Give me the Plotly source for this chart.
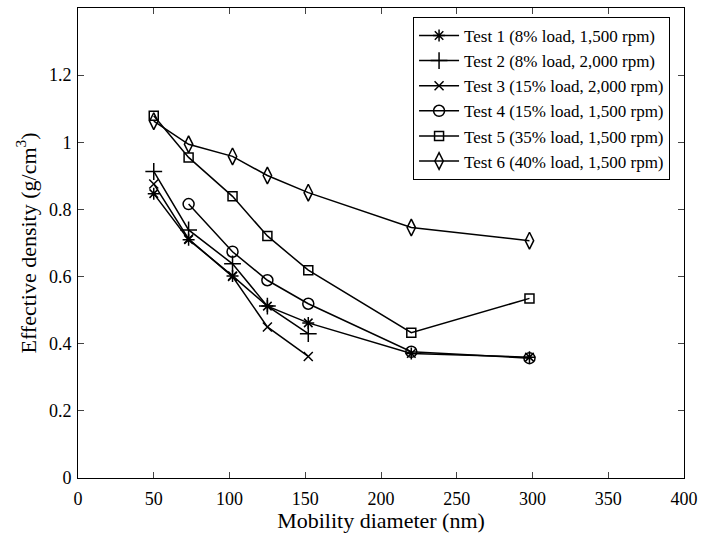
import plotly.graph_objects as go

diam_full = [50, 73, 102, 125, 152, 220, 298]
diam_short = [50, 73, 102, 125, 152]
diam_t4 = [73, 102, 125, 152, 220, 298]

test1 = [0.847, 0.710, 0.602, 0.512, 0.462, 0.371, 0.360]
test2 = [0.913, 0.739, 0.638, 0.512, 0.430]
test3 = [0.876, 0.712, 0.600, 0.450, 0.362]
test4 = [0.816, 0.674, 0.589, 0.519, 0.376, 0.357]
test5 = [1.079, 0.955, 0.839, 0.721, 0.619, 0.433, 0.535]
test6 = [1.063, 0.994, 0.958, 0.901, 0.850, 0.746, 0.707]

names = ["Test 1 (8% load, 1,500 rpm)", "Test 2 (8% load, 2,000 rpm)",
         "Test 3 (15% load, 2,000 rpm)", "Test 4 (15% load, 1,500 rpm)",
         "Test 5 (35% load, 1,500 rpm)", "Test 6 (40% load, 1,500 rpm)"]

x_ticks = [0, 50, 100, 150, 200, 250, 300, 350, 400]
y_ticks = [0, 0.2, 0.4, 0.6, 0.8, 1.0, 1.2]
y_tick_text = ["0", "0.2", "0.4", "0.6", "0.8", "1", "1.2"]

series = [
    (diam_full, test1, "asterisk-open", 10),
    (diam_short, test2, "cross-thin-open", 12),
    (diam_short, test3, "x-thin-open", 9),
    (diam_t4, test4, "circle-open", 11),
    (diam_full, test5, "square-open", 9),
    (diam_full, test6, "diamond-tall-open", 12),
]

fig = go.Figure()
for (xs, ys, sym, sz), nm in zip(series, names):
    fig.add_trace(go.Scatter(
        x=xs, y=ys, name=nm, mode="lines+markers",
        line=dict(color="black", width=1.5),
        marker=dict(symbol=sym, size=sz, color="black",
                    line=dict(color="black", width=1.5)),
    ))

font = "Liberation Serif, Times New Roman, serif"
fig.update_layout(
    width=709, height=533,
    margin=dict(l=78, r=25, t=7, b=50),
    plot_bgcolor="white", paper_bgcolor="white",
    font=dict(family=font, size=18, color="black"),
    showlegend=True,
    legend=dict(x=0.977, y=0.981, xanchor="right", yanchor="top",
                bgcolor="white", bordercolor="black", borderwidth=1,
                font=dict(family=font, size=17, color="black"),
                tracegroupgap=0, itemwidth=40),
    xaxis=dict(range=[0, 400], tickvals=x_ticks, ticks="inside", ticklen=6,
               showline=True, linecolor="black", linewidth=1, mirror="ticks",
               showgrid=False, zeroline=False, ticklabelstandoff=4,
               title=dict(text="Mobility diameter (nm)", font=dict(size=22), standoff=2),
               tickfont=dict(size=18)),
    yaxis=dict(range=[0, 1.4], tickvals=y_ticks, ticktext=y_tick_text,
               ticks="inside", ticklen=6,
               showline=True, linecolor="black", linewidth=1, mirror="ticks",
               showgrid=False, zeroline=False, ticklabelstandoff=2,
               title=dict(text="Effective density (g/cm<sup>3</sup>)", font=dict(size=22), standoff=6),
               tickfont=dict(size=18)),
)

fig.write_html("out.html", config={"displayModeBar": False},
               post_script="document.body.style.margin='0';")
